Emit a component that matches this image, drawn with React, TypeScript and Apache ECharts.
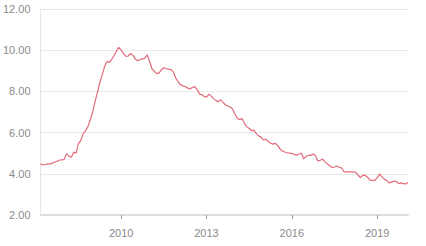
import React, { useEffect, useRef } from "react";
import * as echarts from "echarts";

// Monthly series, starting March 2007
const START_YEAR = 2007;
const START_MONTH = 3;
const values: number[] = [
  4.49, 4.43, 4.45, 4.48, 4.48, 4.52, 4.57, 4.61, 4.67, 4.68, 4.70, 4.98,
  4.85, 4.80, 5.05, 5.00, 5.46, 5.62, 5.95, 6.08, 6.30, 6.62, 7.00, 7.50,
  7.95, 8.42, 8.80, 9.20, 9.45, 9.40, 9.55, 9.74, 9.95, 10.14, 10.00, 9.85,
  9.70, 9.72, 9.84, 9.75, 9.57, 9.49, 9.55, 9.58, 9.60, 9.78, 9.45, 9.10,
  8.97, 8.86, 8.90, 9.05, 9.15, 9.11, 9.08, 9.06, 8.95, 8.65, 8.48, 8.33,
  8.27, 8.24, 8.17, 8.12, 8.19, 8.23, 8.10, 7.88, 7.84, 7.76, 7.72, 7.86,
  7.77, 7.65, 7.55, 7.50, 7.59, 7.47, 7.34, 7.29, 7.24, 7.15, 6.90, 6.70,
  6.63, 6.68, 6.45, 6.29, 6.20, 6.10, 6.12, 5.95, 5.84, 5.78, 5.64, 5.68,
  5.58, 5.49, 5.44, 5.48, 5.38, 5.21, 5.11, 5.06, 5.02, 5.00, 4.99, 4.94,
  4.90, 4.96, 5.00, 4.72, 4.85, 4.89, 4.89, 4.96, 4.88, 4.62, 4.66, 4.71,
  4.58, 4.48, 4.39, 4.30, 4.33, 4.38, 4.32, 4.28, 4.10, 4.09, 4.09, 4.09,
  4.09, 4.07, 3.93, 3.81, 3.94, 3.92, 3.83, 3.69, 3.68, 3.68, 3.80, 3.99,
  3.85, 3.74, 3.68, 3.56, 3.61, 3.63, 3.63, 3.53, 3.56, 3.52, 3.51, 3.58,
];
const labelYears = [2010, 2013, 2016, 2019];
const yTicks = { min: 2, max: 12, interval: 2 };

const categories: string[] = values.map((_, i) => {
  const m0 = START_MONTH - 1 + i;
  const y = START_YEAR + Math.floor(m0 / 12);
  const m = (m0 % 12) + 1;
  return `${y}-${m < 10 ? "0" + m : m}`;
});

const showLabel = (_: number, val: string) =>
  val.endsWith("-01") && labelYears.includes(Number(val.slice(0, 4)));

export default function App() {
  const ref = useRef<HTMLDivElement>(null);
  useEffect(() => {
    if (!ref.current) return;
    const chart = echarts.init(ref.current, undefined, { renderer: "svg" });
    chart.setOption({
      animation: false,
      grid: { left: 37, right: 18, top: 9, bottom: 31, containLabel: false },
      xAxis: {
        type: "category",
        data: categories,
        boundaryGap: false,
        axisLine: { show: true, lineStyle: { color: "#dedede", width: 2 } },
        axisTick: {
          show: true,
          interval: showLabel,
          length: 4,
          lineStyle: { color: "#9a9a9a" },
        },
        axisLabel: {
          interval: showLabel,
          formatter: (v: string) => v.slice(0, 4),
          color: "#8a8a8a",
          fontSize: 11,
          fontFamily: "Liberation Sans, Arial, sans-serif",
          margin: 12,
        },
        splitLine: { show: false },
      },
      yAxis: {
        type: "value",
        min: yTicks.min,
        max: yTicks.max,
        interval: yTicks.interval,
        axisLine: { show: true, lineStyle: { color: "#e6e6e6", width: 1 } },
        axisTick: { show: false },
        axisLabel: {
          formatter: (v: number) => v.toFixed(2),
          color: "#8a8a8a",
          fontSize: 11,
          fontFamily: "Liberation Sans, Arial, sans-serif",
          margin: 10,
        },
        splitLine: { show: true, lineStyle: { color: "#e8e8e8", width: 1 } },
      },
      series: [
        {
          type: "line",
          data: values,
          showSymbol: false,
          symbol: "none",
          lineStyle: { color: "#e26a79", width: 1.2 },
        },
      ],
    });
    return () => chart.dispose();
  }, []);
  return (
    <div
      ref={ref}
      style={{ position: "fixed", left: 0, top: 0, width: 426, height: 246, background: "#fff" }}
    />
  );
}
